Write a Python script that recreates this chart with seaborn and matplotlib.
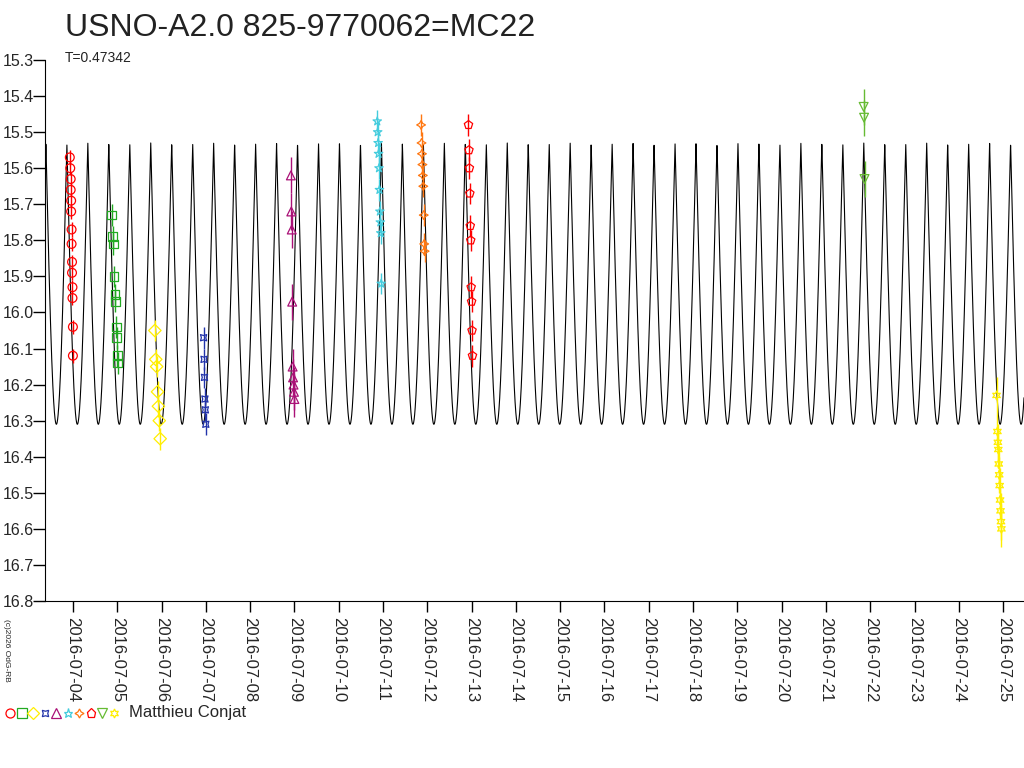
import numpy as np
import matplotlib
matplotlib.use("Agg")
import matplotlib.pyplot as plt
import seaborn as sns
import pandas as pd

sns.set_style("white")
plt.rcParams['font.family'] = ['Liberation Sans', 'DejaVu Sans']

# period and model
period = 0.47342
t0 = 3.39          # day of July 2016 of a bright cusp
mag_bright = 15.53
mag_faint = 16.31

# observing runs: day of July 2016, magnitudes
obs_days = [
    [3.93, 3.94, 3.95, 3.95, 3.96, 3.96, 3.97, 3.97, 3.98, 3.98, 3.99, 3.99, 4.0, 4.0],
    [4.88, 4.9, 4.91, 4.93, 4.95, 4.96, 4.98, 4.99, 5.0, 5.01],
    [5.85, 5.87, 5.89, 5.91, 5.93, 5.95, 5.97],
    [6.95, 6.96, 6.97, 6.98, 6.99, 7.0],
    [8.92, 8.93, 8.94, 8.95, 8.96, 8.97, 8.98, 8.99, 9.0],
    [10.87, 10.88, 10.89, 10.9, 10.91, 10.92, 10.93, 10.94, 10.95, 10.96],
    [11.86, 11.87, 11.88, 11.89, 11.9, 11.91, 11.92, 11.93, 11.94],
    [12.93, 12.94, 12.95, 12.96, 12.97, 12.98, 12.99, 13.0, 13.01, 13.02],
    [21.85, 21.86, 21.87],
    [24.85, 24.87, 24.88, 24.89, 24.9, 24.91, 24.92, 24.93, 24.94, 24.95, 24.96],
]
obs_mags = [
    [15.57, 15.6, 15.63, 15.66, 15.69, 15.72, 15.77, 15.81, 15.86, 15.89, 15.93, 15.96, 16.04, 16.12],
    [15.73, 15.79, 15.81, 15.9, 15.95, 15.97, 16.04, 16.07, 16.12, 16.14],
    [16.05, 16.13, 16.15, 16.22, 16.26, 16.3, 16.35],
    [16.07, 16.13, 16.18, 16.24, 16.27, 16.31],
    [15.62, 15.72, 15.77, 15.97, 16.15, 16.18, 16.2, 16.22, 16.24],
    [15.47, 15.5, 15.53, 15.56, 15.6, 15.66, 15.72, 15.75, 15.78, 15.92],
    [15.48, 15.53, 15.56, 15.59, 15.62, 15.65, 15.73, 15.81, 15.83],
    [15.48, 15.55, 15.6, 15.67, 15.76, 15.8, 15.93, 15.97, 16.05, 16.12],
    [15.43, 15.46, 15.63],
    [16.23, 16.33, 16.36, 16.38, 16.42, 16.45, 16.48, 16.52, 16.55, 16.58, 16.6],
]
obs_err = [0.02, 0.03, 0.03, 0.03, 0.05, 0.03, 0.03, 0.03, 0.05, 0.05]
markers = ['o', 's', 'D', (4, 1, 45), '^', '*', (4, 1, 0), 'p', 'v', (6, 1, 0)]
colors = ['#ff0000', '#22aa22', '#ffee00', '#2233aa', '#aa1177', '#44ccdd',
          '#ff7711', '#ff0000', '#66bb33', '#ffee00']

rows = []
for i in range(len(obs_days)):
    for d, m in zip(obs_days[i], obs_mags[i]):
        rows.append({"run": i, "day": d, "mag": m})
df = pd.DataFrame(rows)

fig = plt.figure(figsize=(10.24, 7.68), dpi=100)
ax = fig.add_axes([45 / 1024, 167 / 768, 979 / 1024, 541 / 768])

x0, x1 = 3.37, 25.47
t = np.linspace(x0, x1, 8000)
model = mag_bright + (mag_faint - mag_bright) * np.abs(np.sin(np.pi * (t - t0) / period))
sns.lineplot(x=t, y=model, color='black', lw=0.8, ax=ax, zorder=1)

for i in range(len(obs_days)):
    sub = df[df.run == i]
    ax.errorbar(sub.day, sub.mag, yerr=obs_err[i], fmt='none', ecolor=colors[i],
                elinewidth=1.0, zorder=2)
    sns.scatterplot(data=sub, x="day", y="mag", marker=markers[i], s=40,
                    facecolors='none', edgecolor=colors[i], linewidth=0.9,
                    ax=ax, zorder=3, legend=False)

ax.set_xlim(x0, x1)
ax.set_ylim(16.8, 15.3)
yt = np.arange(15.3, 16.81, 0.1)
ax.set_yticks(yt)
ax.set_yticklabels([f"{v:.1f}" for v in yt], fontsize=11.5)
days = list(range(4, 26))
ax.set_xticks(days)
ax.set_xticklabels([f"2016-07-{d:02d}" for d in days], rotation=270, fontsize=12)
ax.tick_params(axis='both', direction='out', length=8, width=1, color='black',
               bottom=True, left=True)
ax.tick_params(axis='y', length=9, pad=-1)
ax.set_xlabel("")
ax.set_ylabel("")
for s in ['top', 'right']:
    ax.spines[s].set_visible(False)
for s in ['left', 'bottom']:
    ax.spines[s].set_color('black')

fig.text(65 / 1024, 1 - 28 / 768, "USNO-A2.0 825-9770062=MC22", fontsize=23,
         va='center', color='#222222')
fig.text(65 / 1024, 1 - 58 / 768, "T=0.47342", fontsize=10, va='center', color='#222222')
fig.text(6 / 1024, 1 - 650 / 768, "(c)2026 OdG-RB", fontsize=6, rotation=270,
         va='center', ha='center')

lx = 10
for i in range(len(markers)):
    fig.lines.append(plt.Line2D([lx / 1024], [1 - 713 / 768], marker=markers[i],
                                markersize=6.5, mfc='none', mec=colors[i], mew=0.9,
                                transform=fig.transFigure, lw=0))
    lx += 11.5
fig.text((lx + 4) / 1024, 1 - 713 / 768, "Matthieu Conjat", fontsize=12, va='center')

fig.savefig("out.png", dpi=100)
